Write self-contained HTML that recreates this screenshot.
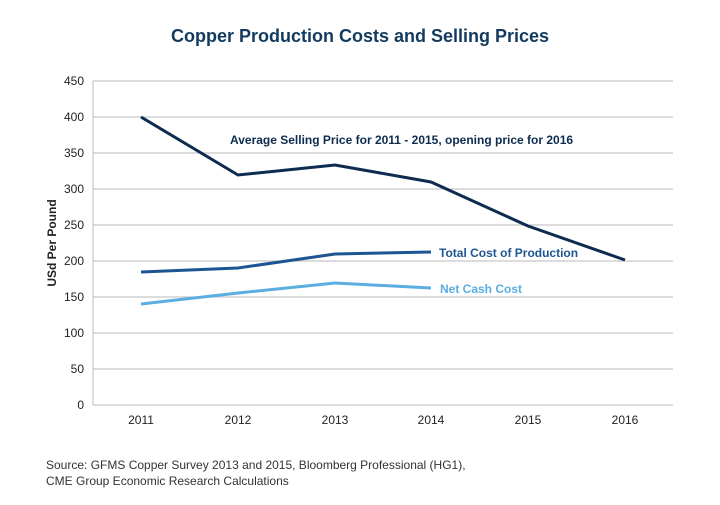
<!DOCTYPE html>
<html><head><style>
body{margin:0;background:#fff;}
svg text{font-family:"Liberation Sans",sans-serif;}
</style></head><body>
<svg width="720" height="500" xmlns="http://www.w3.org/2000/svg">
<text x="360" y="42" text-anchor="middle" font-size="18" font-weight="bold" fill="#123a5e">Copper Production Costs and Selling Prices</text>
<g stroke="#c8c8c8" stroke-width="1.2">
<line x1="93" y1="81" x2="673" y2="81"/><line x1="93" y1="117" x2="673" y2="117"/>
<line x1="93" y1="153" x2="673" y2="153"/><line x1="93" y1="189" x2="673" y2="189"/>
<line x1="93" y1="225" x2="673" y2="225"/><line x1="93" y1="261" x2="673" y2="261"/>
<line x1="93" y1="297" x2="673" y2="297"/><line x1="93" y1="333" x2="673" y2="333"/>
<line x1="93" y1="369" x2="673" y2="369"/><line x1="93" y1="405" x2="673" y2="405"/>
<line x1="93" y1="81" x2="93" y2="405"/>
</g>
<g font-size="12" fill="#222" text-anchor="end">
<text x="84" y="85">450</text><text x="84" y="121">400</text><text x="84" y="157">350</text>
<text x="84" y="193">300</text><text x="84" y="229">250</text><text x="84" y="265">200</text>
<text x="84" y="301">150</text><text x="84" y="337">100</text><text x="84" y="373">50</text>
<text x="84" y="409">0</text>
</g>
<g font-size="12" fill="#222" text-anchor="middle">
<text x="141" y="424">2011</text><text x="238" y="424">2012</text><text x="335" y="424">2013</text>
<text x="431" y="424">2014</text><text x="528" y="424">2015</text><text x="625" y="424">2016</text>
</g>
<text transform="translate(56,243) rotate(-90)" text-anchor="middle" font-size="12" font-weight="bold" fill="#222">USd Per Pound</text>
<polyline fill="none" stroke="#0d2c4f" stroke-width="3" points="141,117 238,175 335,165 431,182 528,226 625,260"/>
<polyline fill="none" stroke="#1d5592" stroke-width="3" points="141,272 238,268 335,254 431,252"/>
<polyline fill="none" stroke="#5aaee0" stroke-width="3" points="141,304 238,293 335,283 431,288"/>
<text x="230" y="144" font-size="12" font-weight="bold" fill="#0d2c4f">Average Selling Price for 2011 - 2015, opening price for 2016</text>
<text x="439" y="257" font-size="12" font-weight="bold" fill="#1d5592">Total Cost of Production</text>
<text x="440" y="293" font-size="12" font-weight="bold" fill="#5aaee0">Net Cash Cost</text>
<text x="46" y="469" font-size="12" fill="#333">Source: GFMS Copper Survey 2013 and 2015, Bloomberg Professional (HG1),</text>
<text x="46" y="485" font-size="12" fill="#333">CME Group Economic Research Calculations</text>
</svg>
</body></html>
